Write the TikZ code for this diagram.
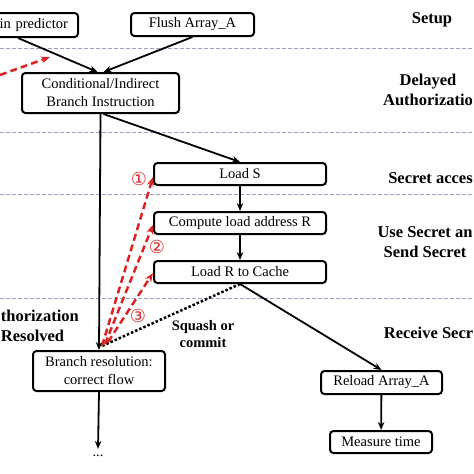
\documentclass[tikz,border=0pt]{standalone}
\usepackage{fontspec}
\setmainfont{Liberation Serif}
\newfontfamily\circfont{DejaVu Sans}
\usetikzlibrary{positioning,arrows.meta,calc}
\definecolor{sepline}{RGB}{150,160,200}
\definecolor{attack}{RGB}{220,35,35}
\begin{document}
\begin{tikzpicture}[x=1pt,y=-1pt,line width=1.8pt,>={Stealth[length=8pt,width=6.5pt]}]
\tikzstyle{bx} = [draw,fill=white,shape=rectangle,rounded corners=3.5pt,line width=2pt,inner sep=0pt,font=\fontsize{14.5}{18}\selectfont,align=center]
\tikzstyle{phase} = [font=\fontsize{16.5}{20}\selectfont\bfseries,align=center,inner sep=0pt]
\tikzstyle{sep} = [draw=sepline,line width=0.8pt,dash pattern=on 4pt off 2pt]
\tikzstyle{spec} = [draw=attack,line width=2.5pt,dash pattern=on 7pt off 4pt,-{Stealth[length=9pt,width=7pt]}]
\tikzstyle{num} = [text=attack,font=\circfont\fontsize{18}{18}\selectfont,inner sep=0pt]
\useasboundingbox (0,0) rectangle (474,474);
\clip (0,0) rectangle (474,474);
% phase separators
\foreach \y in {48,132,194,298}
  \draw [sep] (0,\y) -- (474,\y);
% flow boxes
\node[bx,minimum width=120pt,minimum height=24pt,text width=100pt,align=right] (train) at (18,25) {in predictor};
\node[bx,minimum width=123pt,minimum height=23pt] (flush) at (192.5,24.5) {Flush Array\_A};
\node[bx,minimum width=157pt,minimum height=40pt] (cond) at (100.5,93) {Conditional/Indirect\\Branch Instruction};
\node[bx,minimum width=172pt,minimum height=22pt] (loads) at (240,174) {Load S};
\node[bx,minimum width=172pt,minimum height=22pt] (comp) at (240,223) {Compute load address R};
\node[bx,minimum width=172pt,minimum height=22pt] (loadr) at (240,272) {Load R to Cache};
\node[bx,minimum width=132pt,minimum height=40pt] (branch) at (99,371) {Branch resolution:\\correct flow};
\node[bx,minimum width=121pt,minimum height=23pt] (reload) at (381.5,382.5) {Reload Array\_A};
\node[bx,minimum width=102pt,minimum height=22pt] (measure) at (381,442) {Measure time};
\node[font=\fontsize{14.5}{18}\selectfont] (more) at (98,456) {...};
% phase names
\node[phase] (setup) at (432,20) {Setup};
\node[phase] (delay) at (428,90) {Delayed\\Authorizatio};
\node[phase] (access) at (430.5,178) {Secret acces};
\node[phase] (use) at (425,242) {Use Secret an\\Send Secret};
\node[phase] (receive) at (428.5,333) {Receive Secr};
\node[phase,anchor=west,align=left] (resolved) at (0,326) {thorization\\Resolved};
\node[font=\fontsize{14.5}{17}\selectfont\bfseries,align=center,inner sep=0pt] (squash) at (203,334) {Squash or\\commit};
% numbers
\node[num] (n1) at (139,179) {①};
\node[num] (n2) at (157,247) {②};
\node[num] (n3) at (138,316) {③};
\coordinate (res) at (102,346);
\coordinate (trainin) at (0,75);
\coordinate (trainend) at (50,57);
% arrows
\draw [->] (train.south) -- ($(cond.north)+(-3,0)$);
\draw [->] (flush.south) -- ($(cond.north)+(3,0)$);
\draw [->] (cond.south) -- (branch.north);
\draw [->] ($(cond.south)+(3,0)$) -- (loads.north);
\draw [->] (loads) -- (comp);
\draw [->] (comp) -- (loadr);
\draw [->] (loadr.south) -- (reload.north);
\draw [->] (reload) -- (measure);
\draw [->] (branch.south) -- ($(more.north)+(0,-2)$);
\draw [dotted,line width=2.5pt] (loadr.south) -- (res);
\draw [spec] (trainin) -- (trainend);
\draw [spec] (res) -- ($(loads.west)+(0,3)$);
\draw [spec] ($(res)+(3,-2)$) -- ($(comp.west)+(0,2)$);
\draw [spec] ($(res)+(6,-4)$) -- ($(loadr.west)+(0,1)$);
\end{tikzpicture}
\end{document}
